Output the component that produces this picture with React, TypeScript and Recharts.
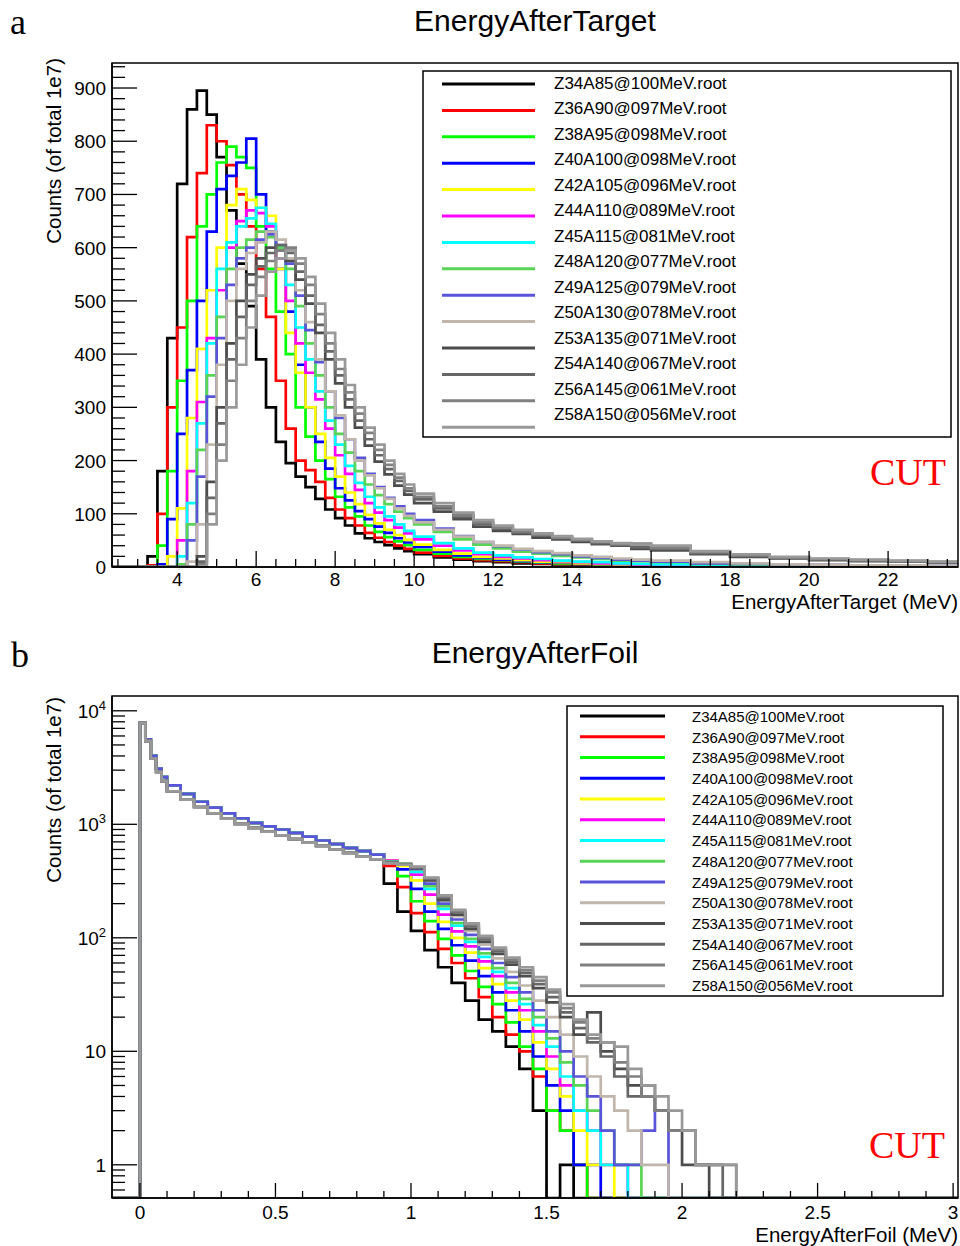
import { Line, LineChart, XAxis, YAxis } from "recharts";

const sans = '"Liberation Sans", Arial, Helvetica, sans-serif';
const serif = '"Liberation Serif", "Times New Roman", serif';

const runNames = [
  "Z34A85@100MeV.root",
  "Z36A90@097MeV.root",
  "Z38A95@098MeV.root",
  "Z40A100@098MeV.root",
  "Z42A105@096MeV.root",
  "Z44A110@089MeV.root",
  "Z45A115@081MeV.root",
  "Z48A120@077MeV.root",
  "Z49A125@079MeV.root",
  "Z50A130@078MeV.root",
  "Z53A135@071MeV.root",
  "Z54A140@067MeV.root",
  "Z56A145@061MeV.root",
  "Z58A150@056MeV.root",
];
// ROOT colour indices 1..9, 11..15
const runColors = [
  "#000000", "#ff0000", "#00ff00", "#0000ff", "#ffff00", "#ff00ff", "#00ffff",
  "#59d454", "#5954d9", "#c0b6ac", "#4c4c4c", "#666666", "#808080", "#999999",
];

// ---- EnergyAfterTarget: left bin edges (MeV) and counts per bin
const targetEdges = [
  2.35, 3.0, 3.25, 3.5, 3.75, 4.0, 4.25, 4.5, 4.75, 5.0,
  5.25, 5.5, 5.75, 6.0, 6.25, 6.5, 6.75, 7.0, 7.25, 7.5,
  7.75, 8.0, 8.25, 8.5, 8.75, 9.0, 9.25, 9.5, 9.75,
  10, 10.5, 11, 11.5, 12, 12.5, 13, 13.5, 14, 14.5, 15, 15.5,
  16, 17, 18, 19, 20, 21, 22, 23, 23.77,
];
const targetZ34 = [0, 0, 20, 180, 430, 720, 860, 895, 850, 770, 670, 570, 490, 390, 300, 235, 195, 170, 150, 128, 108, 92, 78, 63, 54, 47, 41, 35, 30,
  24, 18, 14, 11, 9, 7, 6, 5, 4, 4, 3, 3, 3, 2, 1, 1, 1, 0, 0, 0, 0];
const targetZ36 = [0, 0, 3, 100, 300, 450, 620, 740, 830, 800, 755, 700, 640, 560, 470, 350, 260, 200, 182, 160, 130, 108, 92, 78, 64, 55, 47, 40, 34,
  27, 21, 16, 13, 11, 9, 7, 6, 5, 4, 4, 3, 3, 2, 2, 1, 1, 1, 0, 0, 0];
const targetZ38 = [0, 0, 0, 40, 180, 350, 500, 640, 700, 760, 790, 770, 750, 640, 560, 480, 400, 300, 245, 200, 165, 132, 112, 95, 78, 66, 56, 48, 41,
  32, 25, 19, 15, 13, 10, 8, 7, 6, 5, 4, 4, 3, 2, 2, 1, 1, 1, 0, 0, 0];
const targetZ40 = [0, 0, 0, 5, 90, 250, 370, 500, 630, 710, 735, 760, 805, 700, 630, 560, 480, 380, 300, 235, 185, 148, 125, 105, 90, 76, 64, 54, 46,
  38, 29, 22, 17, 14, 11, 9, 8, 6, 6, 5, 4, 3, 2, 2, 1, 1, 1, 1, 0, 0];
const targetZ42 = [0, 0, 0, 0, 20, 110, 280, 410, 520, 600, 680, 710, 690, 675, 660, 560, 440, 365, 300, 250, 205, 170, 140, 118, 98, 82, 70, 60, 51,
  42, 32, 25, 19, 16, 13, 10, 9, 7, 6, 5, 5, 4, 3, 2, 2, 1, 1, 1, 0, 0];
const targetZ44 = [0, 0, 0, 0, 0, 50, 180, 310, 430, 520, 600, 650, 670, 665, 640, 580, 500, 420, 365, 315, 260, 210, 175, 145, 120, 102, 88, 74, 63,
  52, 40, 31, 24, 19, 16, 13, 11, 9, 7, 6, 5, 4, 3, 2, 2, 1, 1, 1, 0, 0];
const targetZ45 = [0, 0, 0, 0, 0, 20, 120, 270, 420, 560, 610, 640, 655, 675, 645, 600, 530, 450, 390, 330, 275, 230, 190, 158, 132, 112, 95, 80, 68,
  57, 45, 35, 27, 22, 18, 15, 12, 10, 9, 7, 6, 5, 4, 3, 2, 2, 1, 1, 1, 0];
const targetZ48 = [0, 0, 0, 0, 0, 5, 80, 220, 360, 470, 560, 600, 615, 630, 620, 600, 560, 490, 420, 360, 300, 250, 215, 180, 155, 135, 118, 104, 92,
  80, 66, 52, 42, 35, 29, 25, 21, 18, 15, 12, 11, 9, 6, 5, 4, 3, 2, 2, 1, 1];
const targetZ49 = [0, 0, 0, 0, 0, 0, 50, 170, 320, 430, 530, 580, 600, 615, 625, 605, 570, 510, 445, 385, 330, 280, 240, 205, 175, 150, 130, 114, 100,
  88, 72, 58, 47, 39, 33, 28, 24, 20, 17, 14, 12, 10, 7, 6, 5, 4, 3, 2, 2, 1];
const targetZ50 = [0, 0, 0, 0, 0, 0, 10, 80, 230, 380, 500, 560, 590, 610, 630, 615, 580, 520, 460, 390, 330, 285, 240, 200, 172, 148, 128, 110, 96,
  84, 70, 57, 47, 40, 34, 30, 26, 22, 19, 16, 14, 12, 9, 7, 5, 4, 3, 3, 2, 1];
const targetZ53 = [0, 0, 0, 0, 0, 0, 0, 20, 160, 300, 420, 500, 550, 580, 600, 595, 575, 540, 495, 440, 390, 345, 300, 262, 228, 198, 174, 153, 136,
  120, 104, 90, 76, 68, 62, 55, 52, 47, 43, 40, 34, 31, 24, 19, 16, 13, 11, 10, 8, 7];
const targetZ54 = [0, 0, 0, 0, 0, 0, 0, 10, 130, 270, 390, 470, 530, 565, 590, 605, 590, 555, 510, 455, 405, 360, 315, 275, 240, 210, 184, 162, 143,
  127, 110, 94, 81, 72, 64, 59, 54, 50, 45, 41, 37, 34, 26, 21, 17, 14, 12, 10, 9, 8];
const targetZ56 = [0, 0, 0, 0, 0, 0, 0, 5, 100, 230, 350, 430, 500, 545, 575, 595, 600, 570, 530, 475, 420, 372, 328, 288, 252, 220, 192, 168, 148,
  132, 114, 97, 84, 74, 67, 61, 55, 51, 47, 43, 44, 36, 28, 22, 18, 15, 13, 11, 9, 8];
const targetZ58 = [0, 0, 0, 0, 0, 0, 0, 0, 80, 200, 300, 380, 450, 510, 555, 580, 595, 580, 545, 495, 440, 390, 342, 300, 262, 230, 200, 175, 155,
  138, 120, 102, 88, 78, 70, 63, 58, 53, 48, 45, 42, 40, 30, 24, 19, 16, 14, 12, 10, 9];
const targetCounts = [
  targetZ34, targetZ36, targetZ38, targetZ40, targetZ42, targetZ44, targetZ45,
  targetZ48, targetZ49, targetZ50, targetZ53, targetZ54, targetZ56, targetZ58,
];

// ---- EnergyAfterFoil: common low-energy part, then per-run falling edge
const foilHeadEdges = [-0.1, 0, 0.02, 0.04, 0.06, 0.08, 0.1, 0.15, 0.2, 0.25, 0.3, 0.35, 0.4, 0.45, 0.5, 0.55, 0.6, 0.65, 0.7, 0.75, 0.8, 0.85];
const foilHeadLight = [0, 7800, 5600, 4000, 3100, 2600, 2200, 1850, 1580, 1400, 1250, 1130, 1030, 960, 900, 840, 780, 720, 670, 620, 580, 540];
const foilHeadHeavy = [0, 7800, 5400, 3800, 2900, 2400, 1950, 1650, 1420, 1250, 1120, 1010, 930, 860, 800, 740, 690, 645, 600, 560, 520, 490];
const foilTailEdges = [
  0.9, 0.95, 1.0, 1.05, 1.1, 1.15, 1.2, 1.25, 1.3, 1.35,
  1.4, 1.45, 1.5, 1.55, 1.6, 1.65, 1.7, 1.75, 1.8, 1.85,
  1.9, 1.95, 2.0, 2.05, 2.1, 2.15, 2.2, 3.02,
];
const foilZ34 = [300, 170, 115, 78, 55, 40, 28, 19, 15, 11, 7, 3, 0, 1, 0, 0, 0, 0, 0, 0, 0, 0, 0, 0, 0, 0, 0, 0];
const foilZ36 = [430, 280, 165, 112, 80, 60, 44, 30, 20, 14, 10, 6, 3, 2, 1, 0, 0, 0, 0, 0, 0, 0, 0, 0, 0, 0, 0, 0];
const foilZ38 = [460, 350, 210, 140, 98, 70, 51, 37, 26, 18, 11, 7, 3, 2, 1, 0, 0, 0, 0, 0, 0, 0, 0, 0, 0, 0, 0, 0];
const foilZ40 = [470, 400, 270, 170, 120, 86, 63, 46, 33, 23, 15, 9, 5, 3, 1, 1, 0, 0, 0, 0, 0, 0, 0, 0, 0, 0, 0, 0];
const foilZ42 = [480, 430, 320, 200, 138, 100, 74, 54, 39, 28, 19, 12, 7, 4, 2, 1, 1, 0, 0, 0, 0, 0, 0, 0, 0, 0, 0, 0];
const foilZ44 = [480, 450, 360, 240, 160, 114, 84, 62, 46, 33, 23, 15, 9, 5, 3, 2, 1, 1, 0, 0, 0, 0, 0, 0, 0, 0, 0, 0];
const foilZ45 = [470, 440, 380, 270, 180, 128, 92, 68, 50, 36, 26, 17, 11, 6, 3, 2, 1, 1, 0, 0, 0, 0, 0, 0, 0, 0, 0, 0];
const foilZ48 = [470, 450, 400, 285, 190, 135, 98, 73, 54, 40, 29, 20, 13, 8, 5, 3, 2, 1, 1, 0, 0, 0, 0, 0, 0, 0, 0, 0];
const foilZ49 = [465, 440, 405, 300, 200, 145, 106, 80, 60, 45, 33, 23, 15, 10, 6, 4, 2, 1, 1, 2, 3, 0, 0, 0, 0, 0, 0, 0];
const foilZ50 = [460, 440, 415, 320, 215, 155, 115, 87, 66, 50, 38, 28, 20, 14, 9, 6, 4, 3, 2, 1, 1, 0, 0, 0, 0, 0, 0, 0];
const foilZ53 = [460, 440, 410, 320, 215, 160, 120, 92, 72, 58, 46, 36, 27, 20, 14, 22, 10, 7, 5, 4, 3, 2, 1, 1, 0, 0, 0, 0];
const foilZ54 = [460, 440, 415, 330, 225, 168, 126, 97, 76, 61, 49, 39, 30, 22, 16, 12, 9, 6, 4, 5, 3, 2, 2, 1, 1, 0, 0, 0];
const foilZ56 = [455, 440, 420, 335, 232, 172, 130, 100, 79, 64, 52, 42, 33, 24, 18, 13, 12, 8, 6, 4, 3, 2, 2, 1, 1, 1, 0, 0];
const foilZ58 = [455, 440, 425, 340, 236, 176, 134, 104, 82, 67, 55, 45, 35, 26, 19, 14, 12, 11, 7, 5, 4, 3, 2, 1, 1, 1, 0, 0];
const foilTails = [
  foilZ34, foilZ36, foilZ38, foilZ40, foilZ42, foilZ44, foilZ45,
  foilZ48, foilZ49, foilZ50, foilZ53, foilZ54, foilZ56, foilZ58,
];
const heavyFrom = 9; // Z50 onwards sit a little lower at low energy

// axis ticks
const targetMajorX = [4, 6, 8, 10, 12, 14, 16, 18, 20, 22];
const targetMajorY = [0, 100, 200, 300, 400, 500, 600, 700, 800, 900];
const foilMajorX = [0, 0.5, 1, 1.5, 2, 2.5, 3];
const foilDecades = [1, 10, 100, 1000, 10000];
const decadeSteps = [1, 2, 3, 4, 5, 6, 7, 8, 9];

const targetXDomain: [number, number] = [2.35, 23.77];
const targetYDomain: [number, number] = [0, 947];
const foilXDomain: [number, number] = [-0.103, 3.018];
const foilYDomain: [number, number] = [0.51, 13500];

function minorTicks(first: number, step: number, lo: number, hi: number) {
  const out: number[] = [];
  const start = first - Math.floor((first - lo) / step + 1e-9) * step;
  for (let v = start; v <= hi + 1e-9; v += step) out.push(Number(v.toFixed(4)));
  return out;
}

const targetXTicks = minorTicks(4, 0.5, targetXDomain[0], targetXDomain[1]);
const targetYTicks = minorTicks(0, 20, 0, targetYDomain[1]);
const foilXTicks = minorTicks(0, 0.1, 0, 3.0);
const foilYTicks = [0.6, 0.7, 0.8, 0.9]
  .concat(foilDecades.flatMap((d) => decadeSteps.map((k) => k * d)))
  .filter((v) => v <= foilYDomain[1]);

const targetRows = targetEdges.map((e, i) => {
  const row: Record<string, number> = { e };
  runNames.forEach((_, k) => {
    row[`r${k}`] = targetCounts[k][i];
  });
  return row;
});

const foilEdges = [...foilHeadEdges, ...foilTailEdges];
const foilRows = foilEdges.map((e, i) => {
  const row: Record<string, number> = { e };
  runNames.forEach((_, k) => {
    const head = k < heavyFrom ? foilHeadLight : foilHeadHeavy;
    const v = i < foilHeadEdges.length ? head[i] : foilTails[k][i - foilHeadEdges.length];
    // empty bins sit on the bottom of the log frame, as ROOT draws them
    row[`r${k}`] = v > 0 ? v : foilYDomain[0];
  });
  return row;
});

const isMajor = (majors: number[], v: number) => majors.some((m) => Math.abs(m - v) < 1e-6);

function xTick(majors: number[], majorLen: number, minorLen: number, labelDy: number) {
  return (props: any) => {
    const { x, y, payload } = props;
    const v = payload.value as number;
    const major = isMajor(majors, v);
    return (
      <g>
        <line x1={x} x2={x} y1={y} y2={y - (major ? majorLen : minorLen)} stroke="#000" strokeWidth={1.3} />
        {major && (
          <text x={x} y={y + labelDy} textAnchor="middle" fontSize={19} fontFamily={sans} fill="#000">
            {String(v)}
          </text>
        )}
      </g>
    );
  };
}

function yTick(majors: number[], label: (v: number) => any) {
  return (props: any) => {
    const { x, y, payload } = props;
    const v = payload.value as number;
    const major = isMajor(majors, v);
    return (
      <g>
        <line x1={x} x2={x + (major ? 25 : 13)} y1={y} y2={y} stroke="#000" strokeWidth={1.3} />
        {major && (
          <text x={x - 6} y={y + 7} textAnchor="end" fontSize={19} fontFamily={sans} fill="#000">
            {label(v)}
          </text>
        )}
      </g>
    );
  };
}

const powerLabel = (v: number) => {
  const p = Math.round(Math.log10(v));
  if (p < 2) return String(v);
  return (
    <>
      10
      <tspan dy={-8} fontSize={13}>
        {p}
      </tspan>
    </>
  );
};

function LegendBox({
  x, y, w, h, lineX1, lineX2, textX, lineY0, lineStep, textY0, textStep, fontSize,
}: {
  x: number; y: number; w: number; h: number; lineX1: number; lineX2: number; textX: number;
  lineY0: number; lineStep: number; textY0: number; textStep: number; fontSize: number;
}) {
  return (
    <g>
      <rect x={x} y={y} width={w} height={h} fill="#fff" stroke="#000" strokeWidth={1.5} />
      {runNames.map((name, i) => (
        <g key={name}>
          <line
            x1={lineX1}
            x2={lineX2}
            y1={lineY0 + i * lineStep}
            y2={lineY0 + i * lineStep}
            stroke={runColors[i]}
            strokeWidth={3}
          />
          <text
            x={textX}
            y={textY0 + i * textStep}
            dy="0.35em"
            fontSize={fontSize}
            fontFamily={sans}
            fill="#000"
          >
            {name}
          </text>
        </g>
      ))}
    </g>
  );
}

export default function App() {
  const series = () =>
    runNames.map((name, k) => (
      <Line
        key={name}
        name={name}
        dataKey={`r${k}`}
        type="stepAfter"
        stroke={runColors[k]}
        strokeWidth={2.7}
        dot={false}
        activeDot={false}
        isAnimationActive={false}
      />
    ));

  return (
    <div style={{ position: "absolute", left: 0, top: 0, width: 960, height: 1246, background: "#fff" }}>
      <div style={{ position: "absolute", left: 0, top: 0 }}>
        <LineChart width={960} height={620} data={targetRows} margin={{ top: 63, right: 2, bottom: 0, left: 0 }}>
          <XAxis
            type="number"
            dataKey="e"
            domain={targetXDomain}
            allowDataOverflow
            ticks={targetXTicks}
            interval={0}
            tickSize={0}
            tickMargin={0}
            tickLine={false}
            height={53}
            axisLine={{ stroke: "#000", strokeWidth: 1.5 }}
            tick={xTick(targetMajorX, 16, 8, 19)}
          />
          <YAxis
            type="number"
            domain={targetYDomain}
            allowDataOverflow
            ticks={targetYTicks}
            interval={0}
            tickSize={0}
            tickMargin={0}
            tickLine={false}
            width={112}
            axisLine={{ stroke: "#000", strokeWidth: 1.5 }}
            tick={yTick(targetMajorY, (v) => String(v))}
          />
          {series()}
        </LineChart>
      </div>
      <div style={{ position: "absolute", left: 0, top: 630 }}>
        <LineChart width={960} height={616} data={foilRows} margin={{ top: 66, right: 2, bottom: 0, left: 0 }}>
          <XAxis
            type="number"
            dataKey="e"
            domain={foilXDomain}
            allowDataOverflow
            ticks={foilXTicks}
            interval={0}
            tickSize={0}
            tickMargin={0}
            tickLine={false}
            height={48}
            axisLine={{ stroke: "#000", strokeWidth: 1.5 }}
            tick={xTick(foilMajorX, 15, 7, 21)}
          />
          <YAxis
            type="number"
            scale="log"
            domain={foilYDomain}
            allowDataOverflow
            ticks={foilYTicks}
            interval={0}
            tickSize={0}
            tickMargin={0}
            tickLine={false}
            width={112}
            axisLine={{ stroke: "#000", strokeWidth: 1.5 }}
            tick={yTick(foilDecades, powerLabel)}
          />
          {series()}
        </LineChart>
      </div>
      <svg
        width={960}
        height={1246}
        style={{ position: "absolute", left: 0, top: 0, pointerEvents: "none" }}
      >
        <rect x={112} y={63} width={846} height={504} fill="none" stroke="#000" strokeWidth={1.5} />
        <rect x={112} y={696} width={846} height={502} fill="none" stroke="#000" strokeWidth={1.5} />

        <text x={10} y={34} fontSize={36} fontFamily={serif}>a</text>
        <text x={11} y={667} fontSize={36} fontFamily={serif}>b</text>
        <text x={535} y={31} textAnchor="middle" fontSize={30} fontFamily={sans}>EnergyAfterTarget</text>
        <text x={535} y={663} textAnchor="middle" fontSize={30} fontFamily={sans}>EnergyAfterFoil</text>

        <text x={61} y={58} transform="rotate(-90 61 58)" textAnchor="end" fontSize={20.5} fontFamily={sans}>
          Counts (of total 1e7)
        </text>
        <text x={61} y={697} transform="rotate(-90 61 697)" textAnchor="end" fontSize={20.5} fontFamily={sans}>
          Counts (of total 1e7)
        </text>
        <text x={958} y={609} textAnchor="end" fontSize={20.5} fontFamily={sans}>EnergyAfterTarget (MeV)</text>
        <text x={958} y={1242} textAnchor="end" fontSize={20.5} fontFamily={sans}>EnergyAfterFoil (MeV)</text>

        <text x={946} y={485} textAnchor="end" fontSize={38} fontFamily={serif} fill="#ff0000">CUT</text>
        <text x={945} y={1158} textAnchor="end" fontSize={38} fontFamily={serif} fill="#ff0000">CUT</text>

        <LegendBox
          x={423} y={71} w={528} h={366}
          lineX1={442} lineX2={535} textX={554}
          lineY0={84} lineStep={26.4} textY0={83} textStep={25.5} fontSize={17}
        />
        <LegendBox
          x={567} y={706} w={376} h={290}
          lineX1={580} lineX2={665} textX={692}
          lineY0={716} lineStep={20.75} textY0={716.7} textStep={20.7} fontSize={15}
        />
      </svg>
    </div>
  );
}
